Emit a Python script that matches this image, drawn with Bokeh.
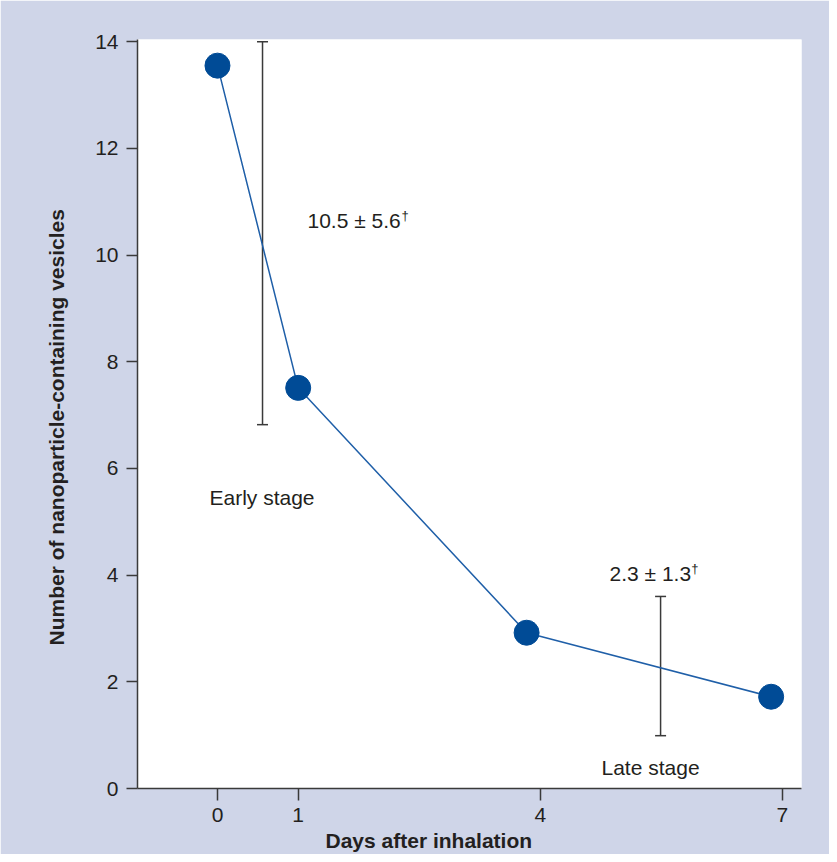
from bokeh.plotting import figure
from bokeh.models import Range1d, FixedTicker, ColumnDataSource, Title
from bokeh.core.properties import value
from bokeh.embed import file_html
from bokeh.resources import INLINE

# Data
days = [0, 1, 3.83, 6.86]
vesicles = [13.55, 7.51, 2.92, 1.72]

err_x = [0.558, 5.49]
err_low = [6.82, 0.99]
err_high = [14.0, 3.6]

label_text = ["10.5 \u00b1 5.6", "2.3 \u00b1 1.3"]
label_x = [1.115, 4.857]
label_y = [10.64, 4.03]
dagger_x = [2.28, 5.87]

stage_text = ["Early stage", "Late stage"]
stage_x = [-0.099, 4.758]
stage_y = [5.45, 0.39]

x_ticks = [0, 1, 4, 7]
y_ticks = [0, 2, 4, 6, 8, 10, 12, 14]

x_title = "Days after inhalation"
y_title = "Number of nanoparticle-containing vesicles"

BG = "#cfd5e8"
TXT = "#231f20"
FONT = "Liberation Sans"

p = figure(width=829, height=854, output_backend="svg", toolbar_location=None,
           x_range=Range1d(-0.991, 7.236), y_range=Range1d(0, 14.04),
           min_border_left=137, min_border_right=28, min_border_top=39, min_border_bottom=66)
p.border_fill_color = BG
p.background_fill_color = "white"
p.outline_line_color = None
p.xgrid.visible = False
p.ygrid.visible = False

for ax in (p.xaxis[0], p.yaxis[0]):
    ax.axis_line_color = "#3a3a3a"
    ax.axis_line_width = 1.5
    ax.major_tick_line_color = "#3a3a3a"
    ax.major_tick_line_width = 1.5
    ax.major_tick_in = 0
    ax.minor_tick_line_color = None
    ax.major_label_text_font = FONT
    ax.major_label_text_font_size = "21px"
    ax.major_label_text_color = TXT

p.xaxis.ticker = FixedTicker(ticks=x_ticks)
p.yaxis.ticker = FixedTicker(ticks=y_ticks)
p.xaxis.major_tick_out = 12
p.yaxis.major_tick_out = 11
p.xaxis.major_label_standoff = 7
p.yaxis.major_label_standoff = 8

p.add_layout(Title(text=x_title, align="left", offset=188, standoff=4,
                   text_font=FONT, text_font_size="21px", text_font_style="bold",
                   text_color=TXT), "below")
p.add_layout(Title(text=y_title, align="left", offset=143, standoff=50,
                   text_font=FONT, text_font_size="21px", text_font_style="bold",
                   text_color=TXT), "left")

# error bars
esrc = ColumnDataSource(dict(x=err_x, lo=err_low, hi=err_high))
p.segment(x0="x", y0="lo", x1="x", y1="hi", source=esrc, line_color="#3a3a3a", line_width=1.5)
p.scatter(x="x", y="lo", source=esrc, marker="dash", size=11, line_color="#3a3a3a", line_width=1.5)
p.scatter(x="x", y="hi", source=esrc, marker="dash", size=11, line_color="#3a3a3a", line_width=1.5)

# series
src = ColumnDataSource(dict(x=days, y=vesicles))
p.line(x="x", y="y", source=src, line_color="#1f5fa8", line_width=1.5)
p.scatter(x="x", y="y", source=src, size=25, fill_color="#004b96", line_color="#004b96")

# labels
lsrc = ColumnDataSource(dict(x=label_x, y=label_y, t=label_text, dx=dagger_x))
p.text(x="x", y="y", text="t", source=lsrc, text_font=value(FONT), text_font_size="21px",
       text_color=TXT, text_align="left", text_baseline="middle")
p.text(x="dx", y="y", text=value("\u2020"), source=lsrc, text_font=value(FONT), text_font_size="13px",
       text_color=TXT, text_align="left", text_baseline="middle", y_offset=-5)

ssrc = ColumnDataSource(dict(x=stage_x, y=stage_y, t=stage_text))
p.text(x="x", y="y", text="t", source=ssrc, text_font=value(FONT), text_font_size="21px",
       text_color=TXT, text_align="left", text_baseline="middle")

open("out.html", "w").write(file_html(p, INLINE))
